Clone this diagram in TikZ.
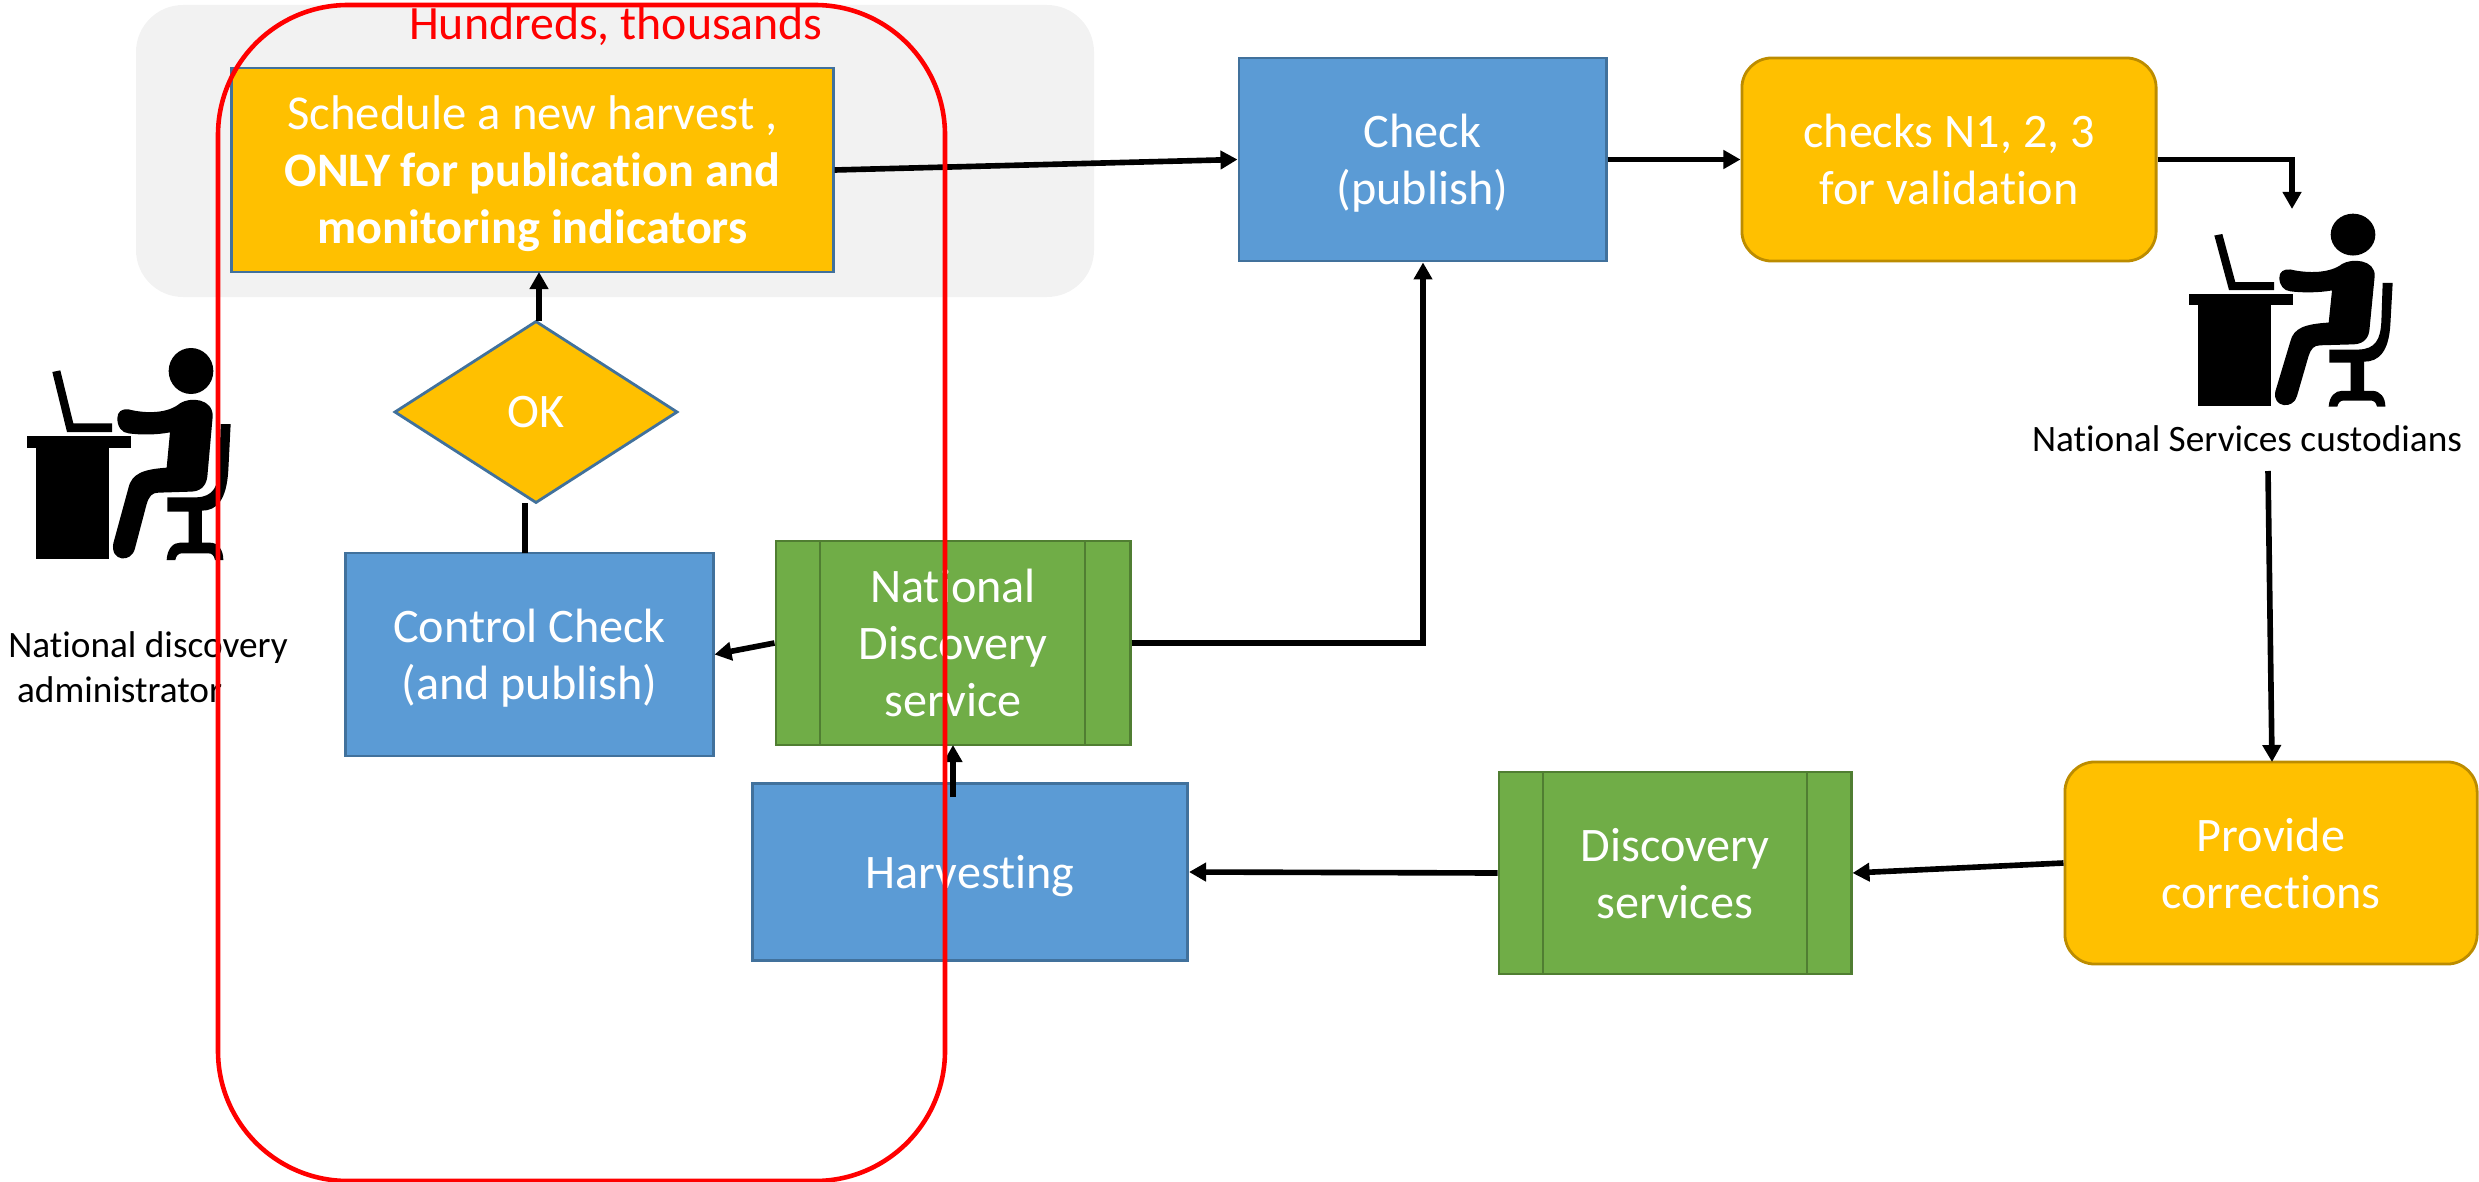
\documentclass[tikz,border=0pt]{standalone}
\usepackage{fontspec}
\setmainfont[Ligatures=NoCommon]{Carlito}
\usetikzlibrary{arrows.meta,shapes.geometric}

\definecolor{boxblue}{HTML}{5B9BD5}
\definecolor{edgeblue}{HTML}{41719C}
\definecolor{boxgold}{HTML}{FFC000}
\definecolor{edgegold}{HTML}{BC8C00}
\definecolor{boxgreen}{HTML}{70AD47}
\definecolor{edgegreen}{HTML}{507E32}
\definecolor{bandgray}{HTML}{F2F2F2}

\tikzset{
	bluebox/.style={draw=edgeblue, fill=boxblue, line width=0.8pt, text=white, align=center, font=\fontsize{13.7}{16.2}\selectfont, inner sep=0pt, text depth=0pt},
	goldbox/.style={bluebox, fill=boxgold},
	greenbox/.style={bluebox, draw=edgegreen, fill=boxgreen},
	goldround/.style={goldbox, draw=edgegold, rounded corners=0.3cm},
	flow/.style={draw=black, line width=1.6pt, -{Triangle[length=0.17cm,width=0.18cm]}},
	caption/.style={text=black, font=\fontsize{10.6}{12.8}\selectfont},
	pics/deskworker/.style={code={
		\fill (80,408) rectangle (392,445);
		\fill (107,445) rectangle (328,778);
		\fill (157,216) -- (181,211) -- (220,370) -- (336,370) -- (336,396) -- (201,396) -- cycle;
		\fill (573,213) ellipse [x radius=67, y radius=69];
		\fill (352,355) .. controls (352,335) and (365,326) .. (385,328) .. controls (440,342) and (505,340) .. (540,310) .. controls (570,290) and (640,295) .. (638,350) -- (622,530) .. controls (618,560) and (600,575) .. (570,575) -- (475,578) .. controls (455,578) and (447,590) .. (440,612) -- (405,745) .. controls (395,790) and (330,785) .. (340,730) -- (385,565) .. controls (395,520) and (430,508) .. (500,503) -- (510,397) .. controls (470,405) and (420,405) .. (385,400) .. controls (365,398) and (352,380) .. (352,355) -- cycle;
		\fill (662,372) -- (692,372) -- (685,510) .. controls (680,600) and (650,632) .. (606,632) -- (606,728) -- (630,728) .. controls (655,728) and (670,750) .. (670,780) -- (645,780) .. controls (642,765) and (635,760) .. (625,760) -- (545,760) .. controls (535,760) and (528,768) .. (526,780) -- (500,780) .. controls (502,745) and (520,728) .. (540,728) -- (566,728) -- (566,635) -- (502,635) -- (502,592) -- (590,592) .. controls (640,590) and (655,560) .. (658,500) -- cycle;
	}},
}

\begin{document}
\begin{tikzpicture}[x=0.01cm,y=-0.01cm]
	\useasboundingbox (0,0) rectangle (2479,1182);

	\fill[bandgray, rounded corners=0.47cm] (136,5) rectangle (1094,297);

	\node[goldbox, minimum width=6.01cm, minimum height=2.04cm] (harvestplan) at (532.5,170) {{\fontsize{13.85}{16.2}\selectfont Schedule a new harvest ,}\\\textbf{ONLY for publication and}\\\textbf{monitoring indicators}};
	\node[bluebox, minimum width=3.67cm, minimum height=2.03cm] (publish) at (1422.5,159.5) {Check\\(publish)};
	\node[goldround, minimum width=4.14cm, minimum height=2.03cm] (validation) at (1949,159.5) {checks N1, 2, 3\\for validation};
	\node[goldbox, diamond, minimum width=2.83cm, minimum height=1.82cm] (okgate) at (536,412) {OK};
	\node[bluebox, minimum width=3.67cm, minimum height=2.03cm] (control) at (529.5,654.5) {Control Check\\(and publish)};
	\node[greenbox, minimum width=3.54cm, minimum height=2.04cm] (natservice) at (953,643) {National\\Discovery\\service};
	\node[bluebox, minimum width=4.35cm, minimum height=1.77cm] (harvesting) at (970,872) {Harvesting};
	\node[greenbox, minimum width=3.52cm, minimum height=2.02cm] (discservices) at (1675,873) {Discovery\\services};
	\node[goldround, minimum width=4.12cm, minimum height=2.02cm] (corrections) at (2271,863) {Provide\\corrections};

	\foreach \xline in {820,1085}{
		\draw[draw=edgegreen, line width=0.8pt] (\xline,541) -- (\xline,745);
	}
	\foreach \xline in {1543,1807}{
		\draw[draw=edgegreen, line width=0.8pt] (\xline,772) -- (\xline,974);
	}

	\pic[xscale=1/3, yscale=1/3] at (0,300) {deskworker};
	\pic[xscale=1/3, yscale=0.3033] at (2162,170) {deskworker};
	\node[caption, align=left] (admincap) at (148,667) {National discovery\\\hspace{2.5pt}administrator};
	\node[caption] (custodiancap) at (2247,439) {National Services custodians};

	\coordinate (custodianin) at (2292,209);
	\coordinate (custodianout) at (2268,471);
	\coordinate (controltop) at (525,553);
	\coordinate (gatebottom) at (525,503);
	\coordinate (gatetop) at (539,321);
	\coordinate (plantop) at (539,272);
	\coordinate (harvestout) at (953,797);
	\coordinate (natin) at (953,745);
	\coordinate (correctin) at (2272,762);
	\coordinate (publishturn) at (1423,643);

	\draw[flow] (harvestplan.east) -- (publish.west);
	\draw[flow] (publish.east) -- (validation.west);
	\draw[flow] (validation.east) -- (custodianin |- validation.east) -- (custodianin);
	\draw[flow] (custodianout) -- (correctin);
	\draw[flow] (corrections.west) -- (discservices.east);
	\draw[flow] (discservices.west) -- (harvesting.east);
	\draw[flow] (harvestout) -- (natin);
	\draw[flow] (natservice.west) -- (control.east);
	\draw[flow] (natservice.east) -- (publishturn) -- (publish.south -| publishturn);
	\draw[draw=black, line width=1.6pt] (controltop) -- (gatebottom);
	\draw[flow] (gatetop) -- (plantop);

	\draw[draw=red, line width=1.3pt, rounded corners=1.3cm] (218,5) rectangle (945,1181);
	\node[text=red, font=\fontsize{13.6}{15}\selectfont] (batchnote) at (616,26) {Hundreds, thousands};
\end{tikzpicture}
\end{document}
